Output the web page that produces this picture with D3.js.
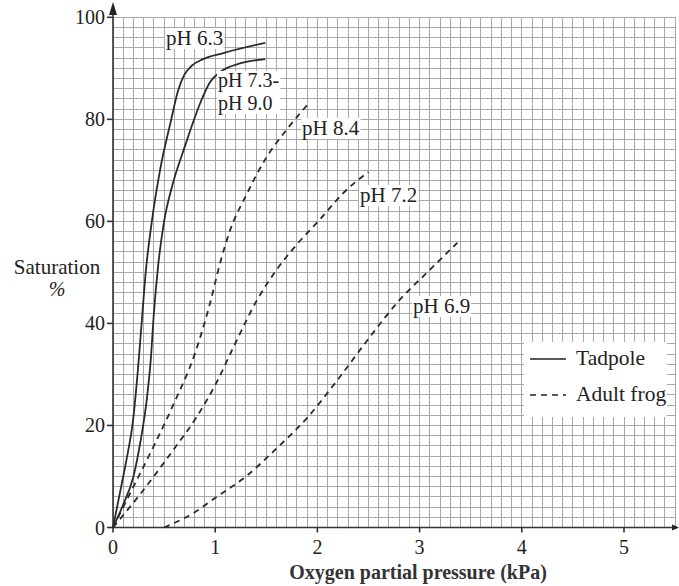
<!DOCTYPE html>
<html><head><meta charset="utf-8">
<script src="https://cdn.jsdelivr.net/npm/d3@7"></script>
<style>
html,body{margin:0;padding:0;background:#fff;}
svg text{font-family:"Liberation Serif","Times New Roman",serif;fill:#222;}
</style></head>
<body><svg id="c" width="679" height="586"></svg>
<script>
// ---- data ----
const xTicks = [0, 1, 2, 3, 4, 5];
const yTicks = [0, 20, 40, 60, 80, 100];

const ph63P = [0, 0.08, 0.15, 0.19, 0.24, 0.28, 0.32, 0.38, 0.46, 0.57, 0.635, 0.70, 0.77, 0.88, 1.08, 1.49];
const ph63S = [0, 8, 15.2, 20, 30, 40, 50, 60, 70, 80, 85.5, 88.8, 90.5, 91.8, 93, 95];

const ph73P = [0, 0.1, 0.2, 0.27, 0.33, 0.37, 0.40, 0.44, 0.50, 0.58, 0.70, 0.86, 0.95, 1.05, 1.25, 1.49];
const ph73S = [0, 4.5, 10, 17, 25, 33, 42, 51, 60, 67, 74.5, 83.5, 87.3, 89.3, 91, 91.8];

const ph84P = [0, 0.2, 0.4, 0.6, 0.8, 0.95, 1.05, 1.15, 1.3, 1.5, 1.7, 1.9];
const ph84S = [0, 8, 16, 24.5, 34, 44, 52, 58.5, 65, 72.5, 78, 82.8];

const ph72P = [0, 0.3, 0.59, 0.82, 1.01, 1.18, 1.41, 1.6, 1.8, 2.03, 2.25, 2.5];
const ph72S = [0, 7.4, 15.2, 21.7, 28.3, 35.4, 44.6, 50.5, 55.5, 60.5, 65.5, 69.7];

const ph69P = [0.5, 0.8, 1.0, 1.3, 1.6, 1.9, 2.2, 2.5, 2.8, 3.1, 3.37];
const ph69S = [0, 3, 5.8, 10, 15.5, 21.5, 29, 37, 44.5, 50.5, 55.8];

const seriesNames = [["pH 6.3"], ["pH 7.3-", "pH 9.0"], ["pH 8.4"], ["pH 7.2"], ["pH 6.9"]];
const legendLabels = ["Tadpole", "Adult frog"];

// ---- chart ----
const svg = d3.select("#c");
const x = d3.scaleLinear().domain([0, 5.5]).range([113, 675.1]);
const y = d3.scaleLinear().domain([0, 100]).range([527.5, 17.3]);

// grid
const g = svg.append("g").attr("shape-rendering", "crispEdges");
const vx = d3.range(0, 56).map(i => i / 10);
const hy = d3.range(0, 51).map(i => i * 2);
g.selectAll("line.v").data(vx).join("line")
  .attr("x1", d => x(d)).attr("x2", d => x(d))
  .attr("y1", y(0)).attr("y2", y(100))
  .attr("stroke", "#a8a8a8").attr("stroke-width", 1);
g.selectAll("line.h").data(hy).join("line")
  .attr("x1", x(0)).attr("x2", x(5.5))
  .attr("y1", d => y(d)).attr("y2", d => y(d))
  .attr("stroke", "#a8a8a8").attr("stroke-width", 1);

// axes
const ax = svg.append("g").attr("stroke", "#333").attr("stroke-width", 1.6);
ax.append("line").attr("x1", x(0)).attr("x2", 677).attr("y1", y(0)).attr("y2", y(0));
ax.append("line").attr("x1", x(0)).attr("x2", x(0)).attr("y1", y(0)).attr("y2", 6);
svg.append("path").attr("d", `M${x(0)},2 L${x(0)-4},15 L${x(0)+4},15 Z`).attr("fill", "#222");
svg.append("path").attr("d", `M679,${y(0)} L672,${y(0)-3} L672,${y(0)+3} Z`).attr("fill", "#222");

ax.selectAll("line.xt").data(xTicks).join("line")
  .attr("x1", d => x(d)).attr("x2", d => x(d)).attr("y1", y(0)).attr("y2", y(0) + 5);
ax.selectAll("line.yt").data(yTicks).join("line")
  .attr("x1", x(0) - 6).attr("x2", x(0)).attr("y1", d => y(d)).attr("y2", d => y(d));

svg.selectAll("text.xl").data(xTicks).join("text")
  .attr("x", d => x(d)).attr("y", 554).attr("text-anchor", "middle")
  .attr("font-size", 20).text(d => d);
svg.selectAll("text.yl").data(yTicks).join("text")
  .attr("x", x(0) - 8).attr("y", d => y(d) + 7).attr("text-anchor", "end")
  .attr("font-size", 20).text(d => d);

svg.append("text").attr("x", 418).attr("y", 579).attr("text-anchor", "middle")
  .attr("font-size", 20).attr("font-weight", "bold").style("fill", "#333")
  .text("Oxygen partial pressure (kPa)");
svg.append("text").attr("x", 57).attr("y", 274).attr("text-anchor", "middle")
  .attr("font-size", 21).text("Saturation");
svg.append("text").attr("x", 57).attr("y", 296).attr("text-anchor", "middle")
  .attr("font-size", 20).attr("font-style", "italic").text("%");

// curves
const curves = [
  {p: ph63P, s: ph63S, dash: null},
  {p: ph73P, s: ph73S, dash: null},
  {p: ph84P, s: ph84S, dash: "6,5"},
  {p: ph72P, s: ph72S, dash: "6,5"},
  {p: ph69P, s: ph69S, dash: "6,5"}
];
const line = d3.line().x(d => x(d[0])).y(d => y(d[1])).curve(d3.curveMonotoneX);
curves.forEach(c => {
  svg.append("path").datum(c.p.map((v, i) => [v, c.s[i]]))
    .attr("d", line).attr("fill", "none").attr("stroke", "#2a2a2a")
    .attr("stroke-width", 1.8).attr("stroke-dasharray", c.dash);
});

// curve labels with white backgrounds
const labelPos = [
  {x: 166, y: 45, fs: 21},
  {x: 218, y: 87, fs: 20},
  {x: 302, y: 135, fs: 21},
  {x: 360, y: 202, fs: 21},
  {x: 413, y: 313, fs: 21}
];
seriesNames.forEach((lines, k) => {
  const l = labelPos[k];
  const gg = svg.append("g");
  const rect = gg.append("rect").attr("fill", "#fff");
  lines.forEach((tt, i) => gg.append("text").attr("x", l.x).attr("y", l.y + i * 23)
    .attr("font-size", l.fs).text(tt));
  const bb = gg.node().getBBox();
  rect.attr("x", bb.x - 1).attr("y", bb.y + 2).attr("width", bb.width + 2).attr("height", bb.height - 3);
});

// legend
svg.append("rect").attr("x", 524).attr("y", 342).attr("width", 143).attr("height", 75).attr("fill", "#fff");
const lg = [{y: 359, dash: null}, {y: 395, dash: "6,5"}];
lg.forEach((d, i) => {
  svg.append("line").attr("x1", 530).attr("x2", 566).attr("y1", d.y).attr("y2", d.y)
    .attr("stroke", "#222").attr("stroke-width", 1.5).attr("stroke-dasharray", d.dash);
  svg.append("text").attr("x", 576).attr("y", d.y + 6).attr("font-size", 21.5).text(legendLabels[i]);
});
</script></body></html>
